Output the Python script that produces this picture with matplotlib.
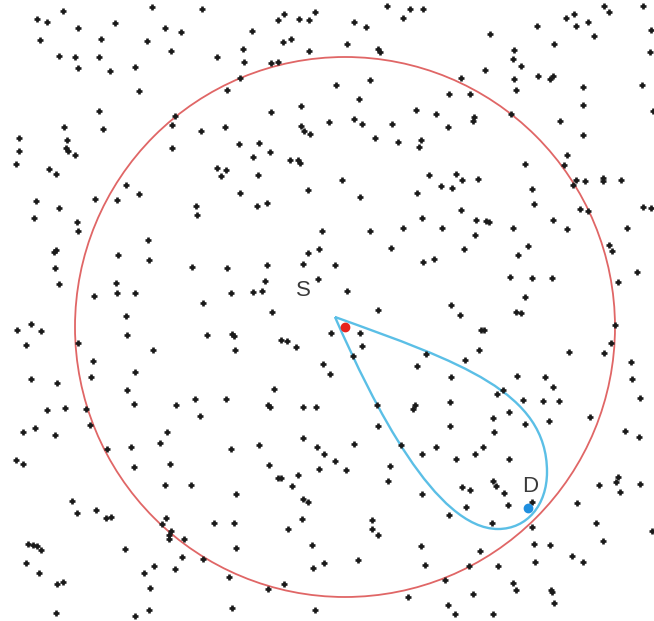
import matplotlib
matplotlib.use("Agg")
import matplotlib.pyplot as plt
import numpy as np
from matplotlib.patches import Circle, PathPatch
from matplotlib.path import Path

# node positions (image-like coordinates, y grows downward)
nodes = np.array([
    (152, 7), (202, 9), (63, 11), (37, 19), (47, 22), (78, 28), (115, 23), (165, 28), (181, 32),
    (40, 40), (101, 39), (147, 41), (171, 51), (59, 56), (75, 57), (99, 57), (217, 57), (78, 68),
    (110, 71), (135, 67), (139, 91), (99, 111), (175, 116), (172, 125), (64, 127), (103, 129),
    (201, 131), (19, 138), (67, 140), (19, 151), (66, 148), (68, 151), (75, 155), (172, 148),
    (16, 164), (49, 169), (56, 174), (217, 168), (126, 185), (139, 194), (36, 201), (59, 208),
    (95, 199), (117, 200), (196, 206),
    (387, 6), (410, 9), (423, 9), (284, 14), (278, 20), (299, 19), (309, 20), (315, 12), (403, 18),
    (354, 22), (366, 27), (252, 31), (283, 42), (291, 39), (243, 49), (309, 51), (347, 44),
    (378, 49), (380, 52), (244, 62), (271, 63), (278, 62), (240, 78), (227, 90), (336, 85),
    (370, 80), (359, 99), (301, 106), (271, 112), (416, 110), (436, 114), (225, 127), (329, 122),
    (354, 119), (362, 124), (392, 124), (301, 126), (304, 131), (310, 134), (375, 138), (398, 142),
    (421, 140), (419, 147), (239, 144), (259, 143), (253, 157), (270, 152), (290, 160), (298, 160),
    (300, 163), (226, 170), (221, 176), (258, 175), (342, 180), (429, 175), (308, 190),
    (240, 193), (360, 197), (417, 193), (257, 206), (267, 203),
    (604, 6), (643, 6), (574, 14), (566, 18), (609, 12), (588, 22), (576, 26), (537, 26), (490, 34),
    (594, 36), (651, 30), (514, 50), (554, 44), (513, 59), (521, 66), (650, 52), (485, 70),
    (538, 76), (550, 79), (553, 76), (461, 78), (514, 79), (516, 90), (583, 87), (642, 85),
    (449, 94), (470, 94), (583, 105), (474, 117), (473, 121), (511, 114), (653, 111), (560, 121),
    (448, 127), (583, 135), (567, 155), (564, 165), (525, 164), (456, 174), (462, 180), (478, 179),
    (441, 186), (452, 188), (576, 180), (585, 181), (573, 185), (603, 178), (603, 181), (621, 180),
    (532, 189), (534, 204), (461, 210), (580, 209), (643, 207), (651, 208),
    (34, 218), (77, 222), (78, 231), (197, 215), (148, 240), (118, 255), (149, 260), (192, 267),
    (56, 250), (54, 252), (55, 268), (59, 284), (116, 283), (117, 293), (135, 293), (94, 296),
    (203, 303), (126, 316), (31, 324), (17, 330), (41, 331), (127, 335), (207, 335), (26, 345),
    (78, 343), (153, 350), (93, 361), (135, 372), (31, 379), (57, 383), (91, 377), (127, 390),
    (134, 404), (176, 405), (195, 399), (200, 416), (47, 410), (65, 408), (86, 409),
    (422, 218), (403, 228), (370, 231), (322, 231), (391, 248), (308, 253), (319, 249), (303, 264),
    (335, 265), (267, 265), (227, 268), (423, 262), (434, 259), (265, 281), (318, 279), (347, 291),
    (231, 293), (253, 292), (262, 291), (378, 310), (272, 312), (232, 334), (234, 336), (331, 333),
    (360, 333), (281, 340), (287, 341), (296, 347), (362, 346), (353, 356), (235, 350), (426, 354),
    (417, 366), (323, 364), (330, 374), (274, 389), (226, 399), (268, 405), (270, 407), (303, 407),
    (316, 407), (377, 405), (415, 405), (413, 409),
    (588, 211), (476, 220), (486, 221), (489, 222), (442, 228), (513, 228), (553, 220), (567, 229),
    (627, 228), (475, 235), (464, 249), (528, 246), (518, 255), (609, 245), (612, 251), (637, 272),
    (510, 277), (532, 278), (552, 278), (618, 282), (525, 297), (451, 305), (460, 315), (516, 312),
    (521, 313), (615, 325), (481, 330), (484, 330), (611, 343), (479, 350), (569, 352), (604, 353),
    (465, 360), (631, 362), (451, 377), (517, 376), (545, 377), (553, 387), (632, 379), (503, 390),
    (497, 394), (640, 398), (450, 402), (523, 400), (543, 401), (559, 401), (509, 412),
    (23, 432), (35, 428), (55, 435), (90, 425), (167, 432), (160, 443), (107, 449), (131, 447),
    (16, 460), (23, 464), (134, 467), (170, 464), (165, 485), (191, 485), (72, 501), (77, 513),
    (96, 510), (106, 518), (111, 517), (166, 518), (162, 524), (171, 531), (169, 535), (169, 539),
    (184, 539), (214, 523), (28, 544), (33, 545), (37, 546), (41, 550), (125, 549), (182, 557),
    (203, 559), (26, 563), (154, 566), (175, 569), (39, 573), (144, 573), (57, 584), (63, 582),
    (150, 588), (56, 613), (149, 610), (135, 616),
    (378, 426), (303, 438), (231, 449), (259, 445), (317, 447), (354, 444), (401, 445), (422, 454),
    (436, 447), (324, 454), (335, 461), (346, 470), (269, 465), (319, 469), (390, 466), (388, 481),
    (278, 478), (281, 478), (298, 475), (292, 486), (236, 494), (303, 499), (308, 502), (422, 494),
    (234, 523), (302, 519), (288, 529), (372, 520), (372, 529), (378, 535), (236, 548), (312, 545),
    (421, 546), (358, 560), (324, 563), (313, 568), (425, 565), (229, 577), (284, 584), (268, 589),
    (408, 597), (232, 608), (315, 610),
    (493, 418), (549, 421), (590, 417), (450, 426), (525, 424), (494, 432), (625, 431), (639, 437),
    (483, 447), (475, 454), (456, 459), (509, 459), (493, 481), (496, 486), (462, 487), (470, 490),
    (504, 493), (599, 485), (618, 477), (616, 482), (640, 484), (620, 492), (532, 502), (508, 505),
    (466, 507), (577, 503), (449, 515), (492, 523), (532, 527), (596, 523), (652, 531), (603, 541),
    (534, 544), (550, 545), (480, 551), (572, 556), (583, 562), (535, 562), (469, 566), (498, 566),
    (445, 580), (513, 583), (516, 590), (551, 590), (552, 592), (473, 594), (554, 603), (448, 605),
    (455, 614), (493, 614),
])

source = (345, 327)
dest = (528, 508)
range_radius = 270

# teardrop route: tip, then bezier control/end points
route_tip = (335, 317)
route_ctrl = [(460, 362), (547, 392), (547, 472),
              (547, 505), (527, 529), (498, 529),
              (436, 529), (374, 406), (335, 317)]

fig = plt.figure(figsize=(6.54, 6.21), dpi=100)
ax = fig.add_axes([0, 0, 1, 1])
ax.set_xlim(0, 654)
ax.set_ylim(621, 0)
ax.axis("off")

ax.plot(nodes[:, 0], nodes[:, 1], "+", color="#1a1a1a", ms=5, mew=1.9)

ax.add_patch(Circle(source, range_radius, fill=False, ec="#e06666", lw=1.3))

verts = [route_tip] + route_ctrl
codes = [Path.MOVETO] + [Path.CURVE4] * len(route_ctrl)
ax.add_patch(PathPatch(Path(verts, codes), fill=False, ec="#5bbfe6", lw=1.7))

ax.plot(*source, "o", color="#e8221c", ms=6)
ax.plot(*dest, "o", color="#1f8fdf", ms=6)

ax.text(303, 290, "S", fontsize=16, color="#3a3a3a", ha="center", va="center",
        family="Liberation Sans")
ax.text(530, 487, "D", fontsize=16, color="#3a3a3a", ha="center", va="center",
        family="Liberation Sans")

fig.savefig("out.png", dpi=100)
